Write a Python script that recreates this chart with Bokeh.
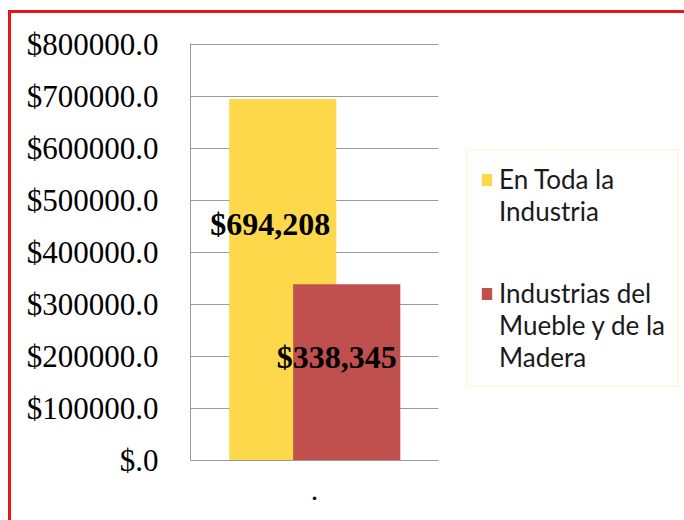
from bokeh.plotting import figure
from bokeh.models import (ColumnDataSource, FactorRange, FixedTicker, Legend, LegendItem, Range1d)
from bokeh.transform import dodge
from bokeh.core.properties import value
from bokeh.embed import file_html
from bokeh.resources import INLINE

# ---- data ----
categories = ["."]
series_names = [["En Toda la", "Industria"], ["Industrias del", "Mueble y de la", "Madera"]]
series_values = [694208, 338345]
value_labels = ["$694,208", "$338,345"]
series_colors = ["#FDD84A", "#C0504D"]
y_ticks = [0, 100000, 200000, 300000, 400000, 500000, 600000, 700000, 800000]
y_tick_labels = ["$.0", "$100000.0", "$200000.0", "$300000.0", "$400000.0",
                 "$500000.0", "$600000.0", "$700000.0", "$800000.0"]

p = figure(x_range=FactorRange(*categories, range_padding=0),
           y_range=Range1d(0, 801000),
           frame_width=248, frame_height=417,
           min_border_left=179, min_border_top=30, min_border_bottom=60,
           min_border_right=246,
           output_backend="svg", toolbar_location=None,
           background_fill_color="white", border_fill_color="white",
           outline_line_color=None)
p.styles = {"border-top": "3px solid #E8141B", "border-left": "3px solid #E8141B",
            "margin-top": "10px", "margin-left": "8px"}

offsets = [-0.128, 0.13]
bar_w = 0.432
renderers = []
for i in range(len(series_values)):
    src = ColumnDataSource(dict(cat=categories, v=[series_values[i]]))
    r = p.vbar(x=dodge("cat", offsets[i], range=p.x_range), top="v", width=bar_w,
               source=src, fill_color=series_colors[i], line_color=None)
    renderers.append(r)

# invisible renderer used for continuation lines of the legend labels
blank = p.vbar(x=[], top=[], width=0.1, fill_alpha=0, line_alpha=0)

# data labels
label_frac = [0.655, 0.585]
label_dx = [-0.05, -0.04]
for i in range(len(series_values)):
    src = ColumnDataSource(dict(cat=categories, y=[series_values[i] * label_frac[i]],
                                t=[value_labels[i]]))
    p.text(x=dodge("cat", offsets[i] + label_dx[i], range=p.x_range), y="y", text="t",
           source=src, text_align="center", text_baseline="middle",
           text_font=value("Liberation Serif"), text_font_style="bold",
           text_font_size="32px", text_color="black")

# axes
p.yaxis.ticker = FixedTicker(ticks=y_ticks)
p.yaxis.major_label_overrides = {t: l for t, l in zip(y_ticks, y_tick_labels)}
p.yaxis.major_label_text_font = "Liberation Serif"
p.yaxis.major_label_text_font_size = "31px"
p.yaxis.major_label_text_color = "black"
p.yaxis.major_label_standoff = 26
p.yaxis.major_tick_line_color = None
p.yaxis.minor_tick_line_color = None
p.yaxis.axis_line_color = "#9a9a9a"

p.xaxis.major_label_text_font = "Liberation Serif"
p.xaxis.major_label_text_font_size = "30px"
p.xaxis.major_label_text_color = "black"
p.xaxis.major_label_standoff = 14
p.xaxis.major_tick_line_color = None
p.xaxis.axis_line_color = "#9a9a9a"

p.xgrid.grid_line_color = None
p.ygrid.grid_line_color = "#9a9a9a"
p.ygrid.ticker = FixedTicker(ticks=y_ticks)

items = []
for i in range(len(series_names)):
    lines = series_names[i]
    if i > 0:
        items.append(LegendItem(label="", renderers=[blank]))
        items.append(LegendItem(label="", renderers=[blank]))
    items.append(LegendItem(label=lines[0], renderers=[renderers[i]]))
    items += [LegendItem(label=t, renderers=[blank]) for t in lines[1:]]
lg = Legend(items=items, location=(28, 73), orientation="vertical",
            label_text_font="Lato", label_text_font_size="26px",
            label_text_color="#1a1a1a", label_height=25,
            label_standoff=6, glyph_width=13, glyph_height=15, spacing=0,
            padding=12, margin=0, border_line_color="#FFF3C0", border_line_width=2,
            background_fill_color="white")
p.add_layout(lg, "right")

open("out.html", "w").write(file_html(p, INLINE))
